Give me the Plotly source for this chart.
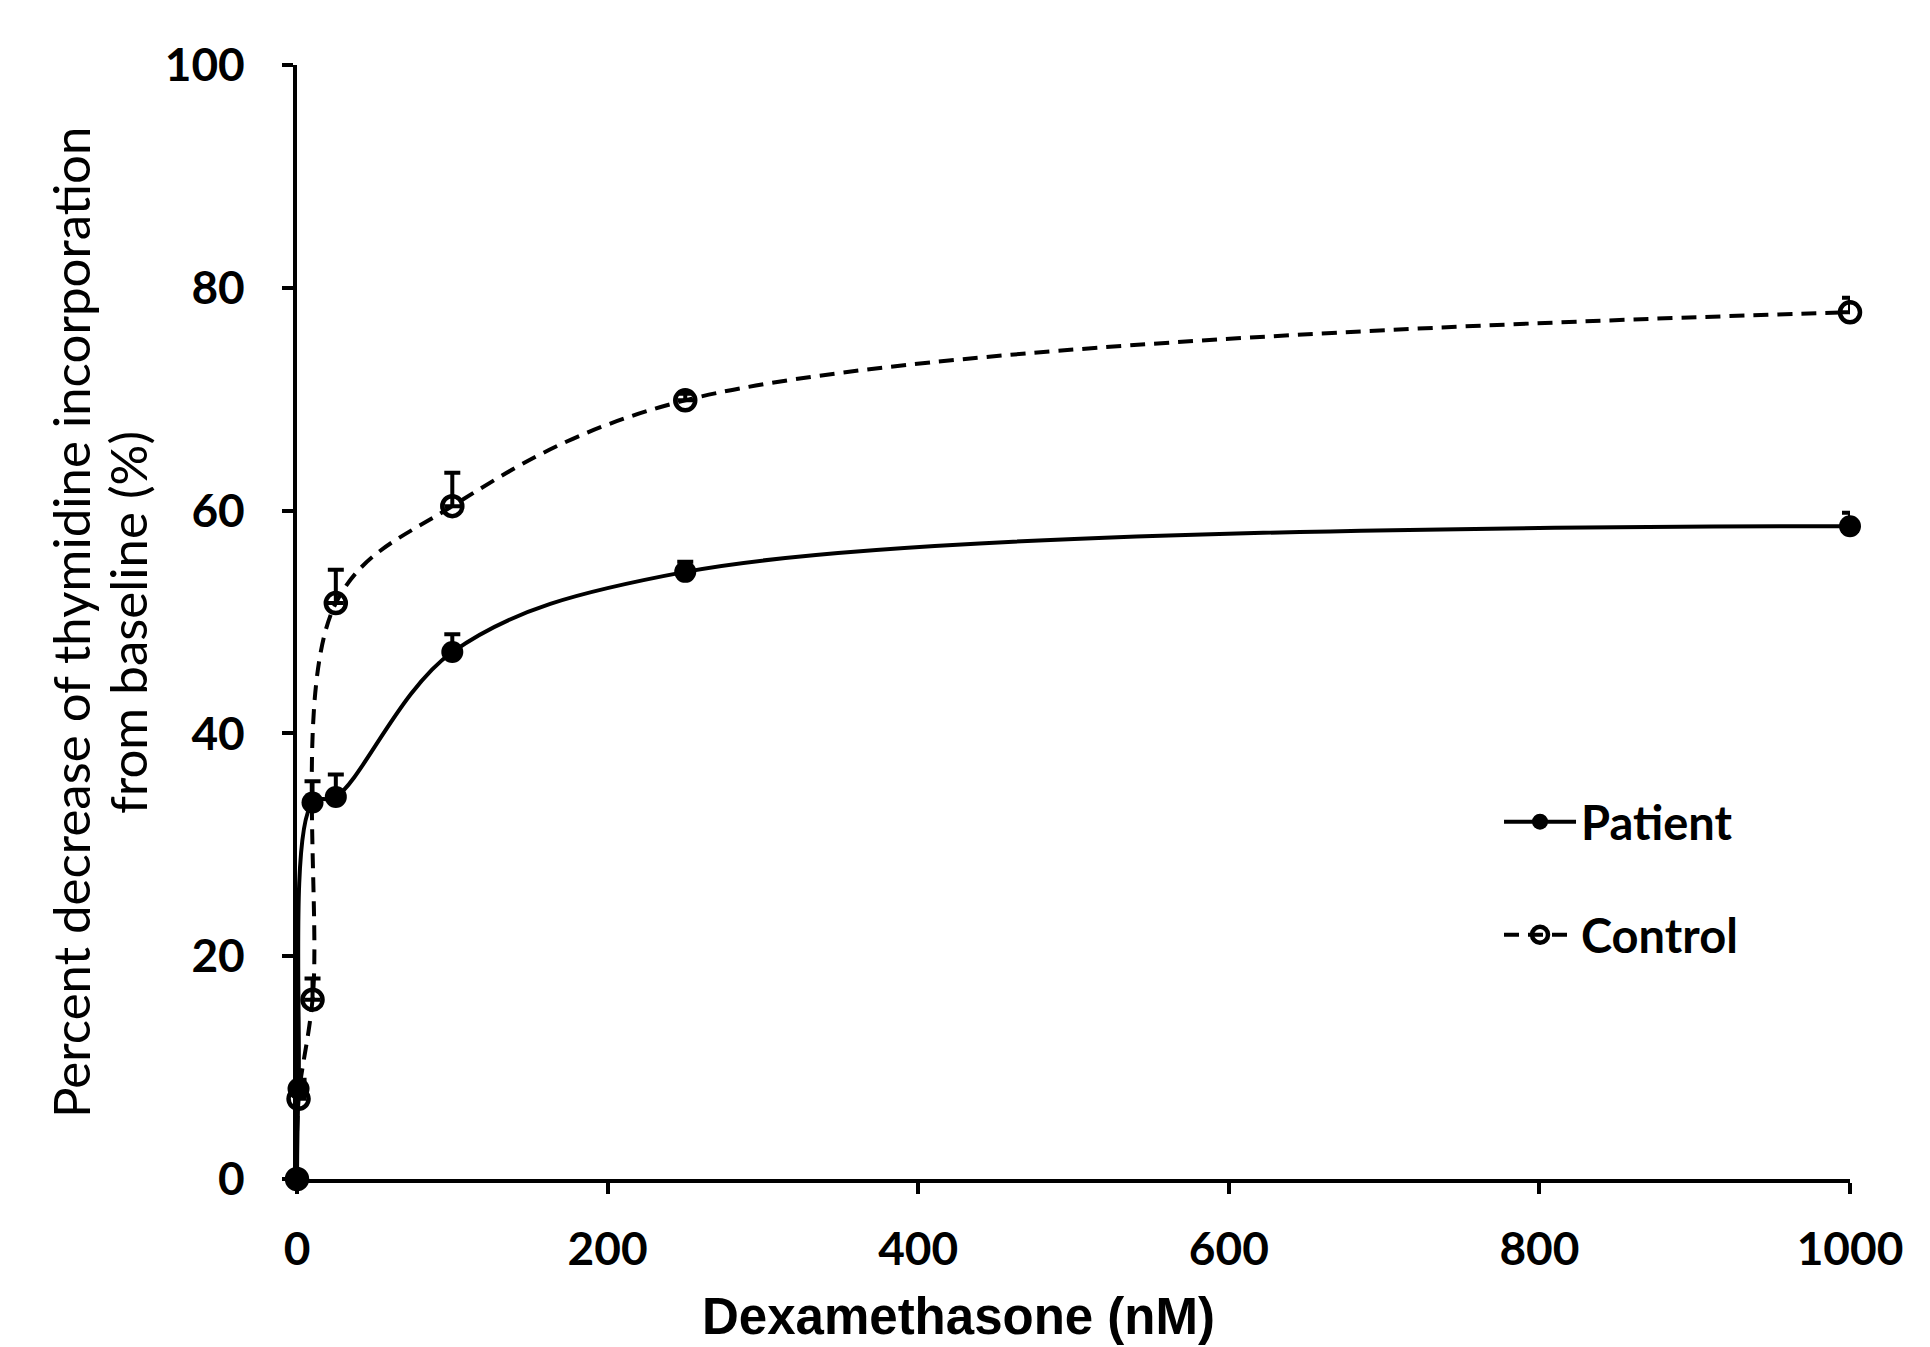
import plotly.graph_objects as go

dose = [0, 1, 10, 25, 100, 250, 1000]
patient = [0, 8.1, 33.8, 34.3, 47.3, 54.5, 58.6]
patient_err = [0.4, 0.8, 1.9, 2.0, 1.6, 0.9, 1.2]
control = [0, 7.2, 16.1, 51.7, 60.4, 69.9, 77.8]
control_err = [0.4, 0.8, 1.9, 3.0, 3.0, 0.6, 1.3]

x_ticks = [0, 200, 400, 600, 800, 1000]
y_ticks = [0, 20, 40, 60, 80, 100]

x_title = "Dexamethasone (nM)"
y_title_lines = ["Percent decrease of thymidine incorporation", "from baseline (%)"]

fig = go.Figure()

fig.add_trace(go.Scatter(
    x=dose, y=control, name="Control", mode="lines+markers",
    line=dict(color="black", width=4, dash="15px,9px", shape="spline", smoothing=1.0),
    marker=dict(symbol="circle-open", size=20, color="black", line=dict(width=4.5, color="black")),
    error_y=dict(type="data", symmetric=False, array=control_err, arrayminus=[0]*len(control),
                 color="black", thickness=4, width=8),
    cliponaxis=False, legendrank=2, legendgroup="control",
))
fig.add_trace(go.Scatter(
    x=dose, y=patient, name="Patient", mode="lines+markers",
    line=dict(color="black", width=4, shape="spline", smoothing=1.0),
    marker=dict(symbol="circle", size=22, color="black"),
    error_y=dict(type="data", symmetric=False, array=patient_err, arrayminus=[0]*len(patient),
                 color="black", thickness=4, width=8),
    cliponaxis=False, legendrank=1, legendgroup="patient",
))

tickfont = dict(family="Lato, 'Open Sans', sans-serif", size=46, color="black", weight="bold")

fig.update_layout(
    width=1930, height=1347,
    paper_bgcolor="white", plot_bgcolor="white",
    margin=dict(l=297, r=80, t=65, b=168, autoexpand=False),
    showlegend=True,
    legend=dict(x=0.774, y=0.354, xanchor="left", yanchor="top",
                traceorder="grouped", tracegroupgap=49,
                font=dict(family="Lato, 'Open Sans', sans-serif", size=47, color="black", weight="bold"),
                bgcolor="rgba(0,0,0,0)", itemwidth=72),
    xaxis=dict(range=[0, 1000], tickvals=x_ticks, ticktext=[str(v) for v in x_ticks],
               showgrid=False, zeroline=False, showline=True, linecolor="black", linewidth=4,
               ticks="outside", ticklen=11, tickwidth=4, tickcolor="black",
               tickfont=tickfont, ticklabelstandoff=16),
    yaxis=dict(range=[0, 100], tickvals=y_ticks, ticktext=[str(v) for v in y_ticks],
               showgrid=False, zeroline=False, showline=True, linecolor="black", linewidth=4,
               ticks="outside", ticklen=11, tickwidth=4, tickcolor="black",
               tickfont=tickfont, ticklabelstandoff=28),
    annotations=[
        dict(text=x_title, xref="paper", yref="paper", x=0.426, y=-0.123,
             xanchor="center", yanchor="middle", showarrow=False,
             font=dict(family="'Liberation Sans', Arial, sans-serif", size=51, color="black", weight="bold")),
        dict(text=y_title_lines[0], xref="paper", yref="paper", x=-0.1462, y=0.5,
             xanchor="center", yanchor="middle", showarrow=False, textangle=-90,
             font=dict(family="Lato, sans-serif", size=51, color="black")),
        dict(text=y_title_lines[1], xref="paper", yref="paper", x=-0.1095, y=0.5,
             xanchor="center", yanchor="middle", showarrow=False, textangle=-90,
             font=dict(family="Lato, sans-serif", size=51, color="black")),
    ],
)

fig.write_html("out.html", config={"displayModeBar": False},
               post_script="document.body.style.margin='0';")
